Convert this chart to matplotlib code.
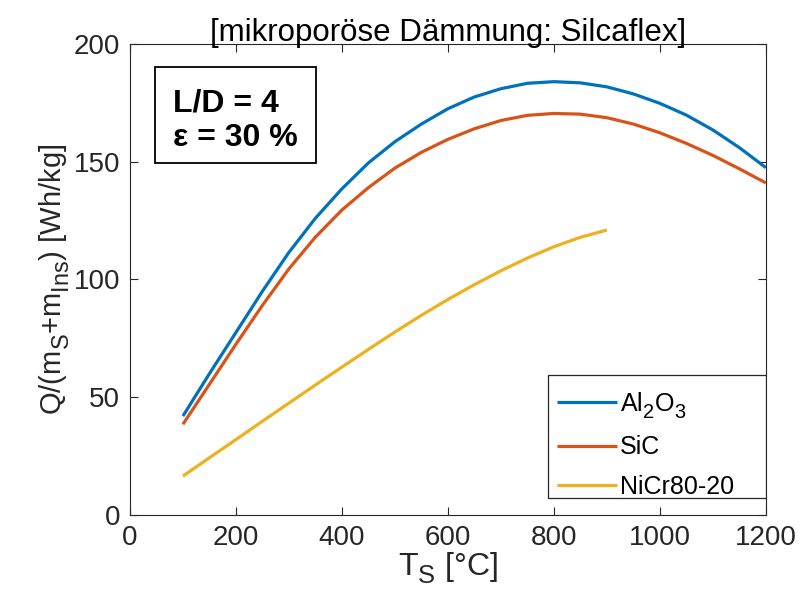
import matplotlib
matplotlib.use("Agg")
import matplotlib.pyplot as plt
from matplotlib.patches import Rectangle

try:
    import matplotlib._mathtext as _mt
    _mt.SHRINK_FACTOR = 0.8
    _mt.FontConstantsBase.sub1 = 0.5
    _mt.FontConstantsBase.sub2 = 0.7
except Exception:
    pass

plt.rcParams['font.family'] = ['Liberation Sans', 'DejaVu Sans']
plt.rcParams['mathtext.fontset'] = 'custom'
plt.rcParams['mathtext.rm'] = 'Liberation Sans'
plt.rcParams['mathtext.it'] = 'Liberation Sans:italic'
plt.rcParams['mathtext.bf'] = 'Liberation Sans:bold'

# ---- Data ----
T_ceramic = [100, 150, 200, 250, 300, 350, 400, 450, 500, 550, 600, 650,
             700, 750, 800, 850, 900, 950, 1000, 1050, 1100, 1150, 1200]
q_al2o3 = [42, 60, 77.5, 95, 111.5, 126, 138.5, 149.5, 158.5, 166, 172.5, 177.5,
           181, 183.3, 184, 183.5, 181.8, 178.8, 174.8, 169.8, 163.5, 156, 147.5]
q_sic = [38.5, 55.5, 72.5, 89, 104.5, 118, 129.5, 139, 147.3, 154, 159.5, 164,
         167.5, 169.7, 170.5, 170.2, 168.7, 166, 162.3, 157.8, 152.7, 147, 141]
T_nicr = [100, 150, 200, 250, 300, 350, 400, 450, 500, 550, 600, 650,
          700, 750, 800, 850, 900]
q_nicr = [16.5, 24.3, 32, 39.8, 47.5, 55.2, 62.8, 70.3, 77.7, 84.8, 91.5, 97.8,
          103.7, 109.1, 113.9, 117.9, 121]

labels = [r'Al$_2$O$_3$', 'SiC', 'NiCr80-20']
colors = ['#0072BD', '#D95319', '#EDB120']
xticks = [0, 200, 400, 600, 800, 1000, 1200]
yticks = [0, 50, 100, 150, 200]

title = '[mikroporöse Dämmung: Silcaflex]'
xlabel = r'T$_\mathrm{S}$ [°C]'
ylabel = r'Q/(m$_\mathrm{S}$+m$_\mathrm{Ins}$) [Wh/kg]'
annot_lines = ['L/D = 4', 'ε = 30 %']

# ---- Figure ----
fig = plt.figure(figsize=(8.07, 6.16), dpi=100)
ax = fig.add_axes([0.161, 0.164, 0.788, 0.7646])

series = [(T_ceramic, q_al2o3), (T_ceramic, q_sic), (T_nicr, q_nicr)]
for (x, y), lab, c in zip(series, labels, colors):
    ax.plot(x, y, color=c, lw=2.3, label=lab, solid_capstyle='butt',
            solid_joinstyle='round')

ax.set_xlim(0, 1200)
ax.set_ylim(0, 200)
ax.set_xticks(xticks)
ax.set_yticks(yticks)

axcol = '#262626'
for s in ax.spines.values():
    s.set_color(axcol)
    s.set_linewidth(0.8)
ax.tick_params(direction='in', top=True, right=True, length=6, width=0.8,
               colors=axcol, labelsize=20, pad=7)

ax.set_title(title, fontsize=22.5, pad=2, color='black')
ax.set_xlabel(xlabel, fontsize=23, color=axcol, labelpad=0)
ax.set_ylabel(ylabel, fontsize=21, color=axcol, labelpad=2)

# annotation box
ax.add_patch(Rectangle((0.039, 0.747), 0.253, 0.204, transform=ax.transAxes,
                       facecolor='white', edgecolor='black', lw=1.3, zorder=5))
ax.text(0.068, 0.873, annot_lines[0], transform=ax.transAxes, fontsize=23,
        fontweight='bold', va='center', ha='left', zorder=6)
ax.text(0.068, 0.80, annot_lines[1], transform=ax.transAxes, fontsize=23,
        fontweight='bold', va='center', ha='left', zorder=6)

# legend frame (MATLAB style box) and legend entries
ax.add_patch(Rectangle((0.657, 0.036), 0.343, 0.261, transform=ax.transAxes,
                       facecolor='white', edgecolor=axcol, lw=0.9, zorder=4))
leg = ax.legend(loc='lower left', bbox_to_anchor=(0.66, 0.018),
                fontsize=18, frameon=False,
                handlelength=2.4, handletextpad=0.12,
                labelspacing=0.62, borderpad=0.3, borderaxespad=0.0)
leg.set_zorder(6)

fig.savefig('out.png', dpi=100)
